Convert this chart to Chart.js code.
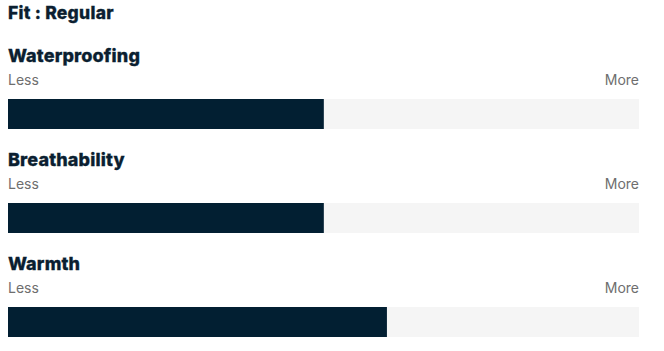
<!DOCTYPE html>
<html lang="en">
<head>
    <meta charset="UTF-8">
    <title>Product Attributes</title>
    <script src="https://cdn.jsdelivr.net/npm/chart.js"></script>
    <style>
        body { margin: 0; background: #fff; font-family: Inter, "Open Sans", sans-serif; }
        #wrap { position: relative; width: 664px; height: 351px; }
        .fit { position: absolute; left: 8px; top: 4px; font-size: 17.5px; line-height: 17px; font-weight: 800; letter-spacing: 0.25px; -webkit-text-stroke: 0.3px #0b1f31; color: #0b1f31; white-space: nowrap; }
        .title { position: absolute; left: 8px; font-size: 18px; line-height: 18px; font-weight: 800; letter-spacing: 0.15px; -webkit-text-stroke: 0.3px #0b1f31; color: #0b1f31; white-space: nowrap; }
        .less, .more { position: absolute; font-size: 14px; line-height: 14px; color: #6e6e6e; white-space: nowrap; }
        .less { left: 8px; }
        .more { right: 25px; }
        canvas { position: absolute; left: 8px; }
    </style>
</head>
<body>
    <div id="wrap"></div>

    <script>
        // values (0 = less, 100 = more)
        const fitLabel = 'Fit : Regular';
        const attributes = ['Waterproofing', 'Breathability', 'Warmth'];
        const values = [50, 50, 60];
        const scaleMin = 0;
        const scaleMax = 100;
        const lowLabel = 'Less';
        const highLabel = 'More';

        const wrap = document.getElementById('wrap');
        const ROW = 104;

        const fit = document.createElement('div');
        fit.className = 'fit';
        fit.textContent = fitLabel;
        wrap.appendChild(fit);

        attributes.forEach((name, i) => {
            const off = i * ROW;

            const title = document.createElement('div');
            title.className = 'title';
            title.style.top = (47 + off) + 'px';
            title.textContent = name;
            wrap.appendChild(title);

            const less = document.createElement('div');
            less.className = 'less';
            less.style.top = (73 + off) + 'px';
            less.textContent = lowLabel;
            wrap.appendChild(less);

            const more = document.createElement('div');
            more.className = 'more';
            more.style.top = (73 + off) + 'px';
            more.textContent = highLabel;
            wrap.appendChild(more);

            const canvas = document.createElement('canvas');
            canvas.width = 631;
            canvas.height = 30;
            canvas.style.top = (99 + off) + 'px';
            wrap.appendChild(canvas);

            new Chart(canvas.getContext('2d'), {
                type: 'bar',
                data: {
                    labels: [name],
                    datasets: [{
                        data: [values[i]],
                        backgroundColor: '#021f32',
                        borderWidth: 0,
                        barPercentage: 1,
                        categoryPercentage: 1,
                        grouped: false,
                        order: 0
                    }, {
                        // grey track behind the fill
                        data: [scaleMax],
                        backgroundColor: '#f5f5f5',
                        borderWidth: 0,
                        barPercentage: 1,
                        categoryPercentage: 1,
                        grouped: false,
                        order: 1
                    }]
                },
                options: {
                    indexAxis: 'y',
                    responsive: false,
                    animation: false,
                    layout: { padding: 0 },
                    plugins: { legend: { display: false }, tooltip: { enabled: false } },
                    scales: {
                        x: { display: false, min: scaleMin, max: scaleMax },
                        y: { display: false }
                    }
                }
            });
        });
    </script>
</body>
</html>
